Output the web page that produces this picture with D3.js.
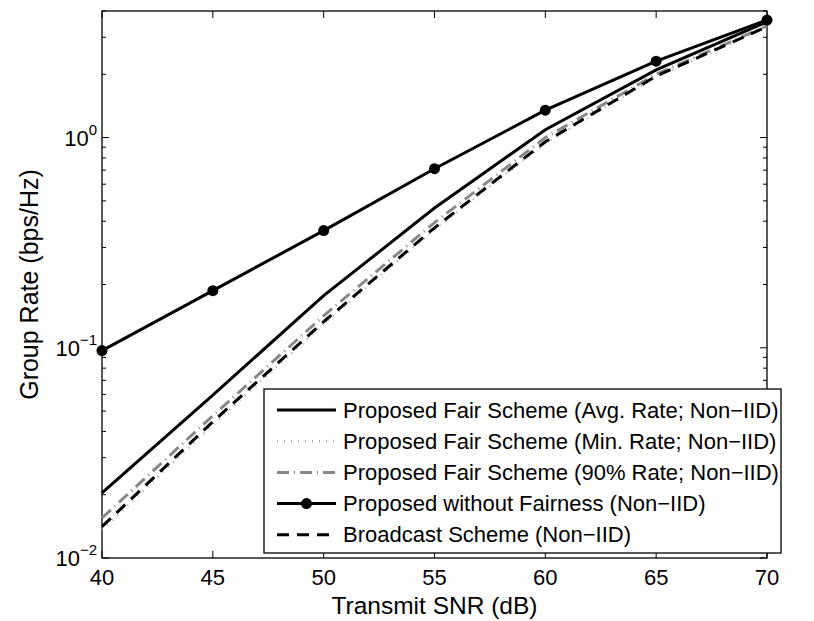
<!DOCTYPE html>
<html><head><meta charset="utf-8">
<script src="https://cdn.jsdelivr.net/npm/d3@7"></script>
<style>
body{margin:0;background:#fff;}
text{font-family:"Liberation Sans",Arial,sans-serif;fill:#000;}
</style></head>
<body><svg id="c" width="814" height="621"></svg>
<script>
const snr = [40,45,50,55,60,65,70];
const avgRate   = [0.0204,0.0596,0.177,0.462,1.09,2.10,3.55];
const minRate   = [0.0136,0.043,0.130,0.365,0.94,1.94,3.35];
const rate90    = [0.0155,0.0475,0.142,0.394,1.00,2.00,3.40];
const noFair    = [0.097,0.187,0.361,0.711,1.35,2.31,3.62];
const broadcast = [0.0141,0.0445,0.133,0.372,0.955,1.96,3.37];
const xTicks = [40,45,50,55,60,65,70];
const yTicks = [0.01,0.1,1];
const yTickExp = ["−2","−1","0"];
const legendLabels = [
 "Proposed Fair Scheme (Avg. Rate; Non−IID)",
 "Proposed Fair Scheme (Min. Rate; Non−IID)",
 "Proposed Fair Scheme (90% Rate; Non−IID)",
 "Proposed without Fairness (Non−IID)",
 "Broadcast Scheme (Non−IID)"
];

const L=102,R=767,T=11,B=558;
const svg=d3.select("#c");
const x=d3.scaleLinear().domain([40,70]).range([L,R]);
const y=d3.scaleLog().domain([0.01,4]).range([B,T]);

// frame
svg.append("rect").attr("x",L).attr("y",T).attr("width",R-L).attr("height",B-T)
  .attr("fill","none").attr("stroke","#000").attr("stroke-width",1.3);

// x ticks (inside, bottom & top)
const tl=7;
xTicks.forEach(v=>{
  svg.append("line").attr("x1",x(v)).attr("x2",x(v)).attr("y1",B).attr("y2",B-tl).attr("stroke","#000");
  svg.append("line").attr("x1",x(v)).attr("x2",x(v)).attr("y1",T).attr("y2",T+tl).attr("stroke","#000");
  svg.append("text").attr("x",x(v)).attr("y",B+27).attr("text-anchor","middle").attr("font-size",22).text(v);
});
// y ticks major + minor
const minor=[];
for(let e=-2;e<=0;e++){for(let m=1;m<=9;m++){const v=m*Math.pow(10,e); if(v<=4) minor.push(v);}}
minor.forEach(v=>{
  const len=(Math.abs(Math.log10(v)-Math.round(Math.log10(v)))<1e-9)?tl:4;
  svg.append("line").attr("x1",L).attr("x2",L+len).attr("y1",y(v)).attr("y2",y(v)).attr("stroke","#000");
  svg.append("line").attr("x1",R).attr("x2",R-len).attr("y1",y(v)).attr("y2",y(v)).attr("stroke","#000");
});
yTicks.forEach((v,i)=>{
  const t=svg.append("text").attr("x",97).attr("y",y(v)+8).attr("text-anchor","end").attr("font-size",22);
  t.append("tspan").text("10");
  t.append("tspan").attr("font-size",15).attr("dy",-11).text(yTickExp[i]);
});

// axis labels
svg.append("text").attr("x",(L+R)/2).attr("y",614).attr("text-anchor","middle").attr("font-size",24.5).text("Transmit SNR (dB)");
svg.append("text").attr("transform","translate(38,"+((T+B)/2)+") rotate(-90)").attr("text-anchor","middle").attr("font-size",25).text("Group Rate (bps/Hz)");

const line=d3.line().x((d,i)=>x(snr[i])).y(d=>y(d));
const styles=[
 {data:avgRate,stroke:"#000",w:3,dash:null},
 {data:minRate,stroke:"#aaa",w:2.5,dash:"1,6"},
 {data:rate90,stroke:"#888",w:3,dash:"12,5,1,5"},
 {data:noFair,stroke:"#000",w:3,dash:null,marker:true},
 {data:broadcast,stroke:"#000",w:3,dash:"12,8"}
];
const g=svg.append("g");
[1,2,4,0,3].forEach(k=>{
  const s=styles[k];
  g.append("path").datum(s.data).attr("d",line).attr("fill","none")
   .attr("stroke",s.stroke).attr("stroke-width",s.w).attr("stroke-dasharray",s.dash);
  if(s.marker){
    g.selectAll(null).data(s.data).enter().append("circle")
     .attr("cx",(d,i)=>x(snr[i])).attr("cy",d=>y(d)).attr("r",5.5).attr("fill","#000");
  }
});

// legend
const lg=svg.append("g");
lg.append("rect").attr("x",264).attr("y",389).attr("width",517).attr("height",164)
  .attr("fill","#fff").attr("stroke","#000").attr("stroke-width",1.3);
legendLabels.forEach((lab,i)=>{
  const yy=410+i*31.2;
  const s=styles[i];
  lg.append("line").attr("x1",277).attr("x2",336).attr("y1",yy).attr("y2",yy)
    .attr("stroke",s.stroke).attr("stroke-width",s.w).attr("stroke-dasharray",s.dash);
  if(s.marker) lg.append("circle").attr("cx",306.5).attr("cy",yy).attr("r",5.5).attr("fill","#000");
  lg.append("text").attr("x",343).attr("y",yy+7.5).attr("font-size",22).text(lab);
});
</script></body></html>
